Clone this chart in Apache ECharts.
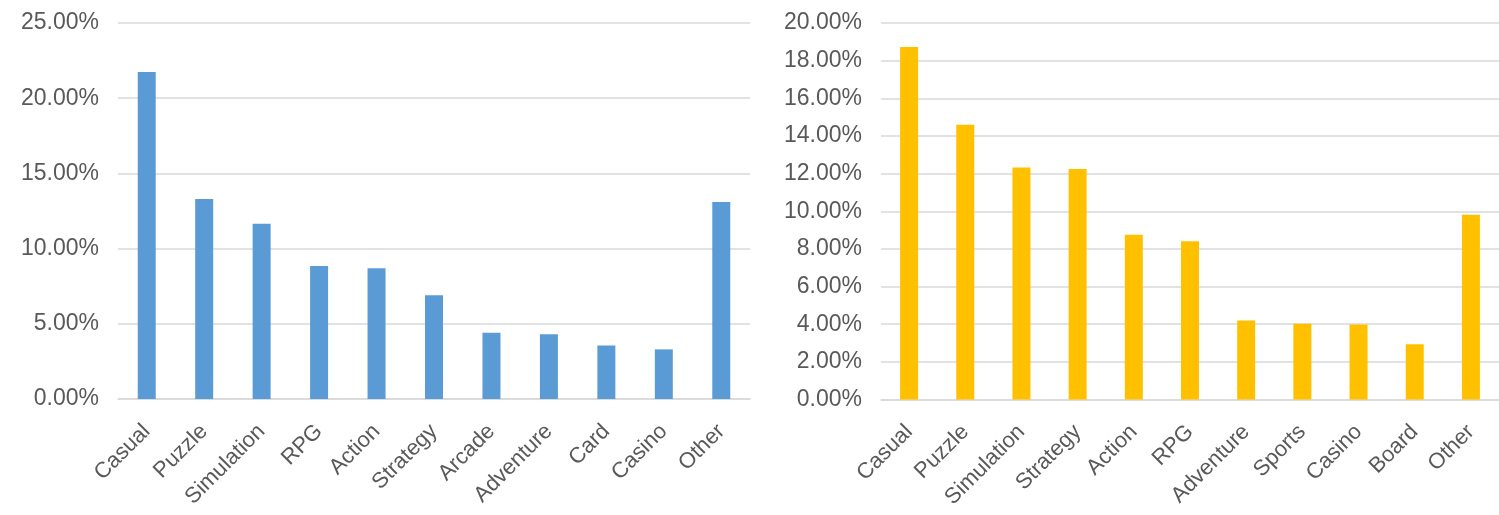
<!DOCTYPE html>
<html>
<head>
<meta charset="utf-8">
<script src="https://cdn.jsdelivr.net/npm/echarts@6/dist/echarts.min.js"></script>
<style>
  html, body { margin: 0; padding: 0; background: #ffffff; }
  #chart { width: 1499px; height: 515px; }
</style>
</head>
<body>
<div id="chart"></div>
<script>
// Left chart
const leftCategories = ['Casual', 'Puzzle', 'Simulation', 'RPG', 'Action', 'Strategy', 'Arcade', 'Adventure', 'Card', 'Casino', 'Other'];
const leftValues = [21.75, 13.3, 11.65, 8.85, 8.7, 6.9, 4.4, 4.3, 3.55, 3.3, 13.1];
const leftTicks = { min: 0, max: 25, interval: 5 };

// Right chart
const rightCategories = ['Casual', 'Puzzle', 'Simulation', 'Strategy', 'Action', 'RPG', 'Adventure', 'Sports', 'Casino', 'Board', 'Other'];
const rightValues = [18.73, 14.6, 12.33, 12.24, 8.75, 8.4, 4.19, 4.03, 3.98, 2.93, 9.81];
const rightTicks = { min: 0, max: 20, interval: 2 };

const FONT = '"Liberation Sans", Arial, Helvetica, sans-serif';
const LABEL_COLOR = '#595959';
const GRID_COLOR = '#d9d9d9';

function yAxis(gridIndex, t) {
  return {
    type: 'value', gridIndex, min: t.min, max: t.max, interval: t.interval,
    axisLine: { show: false }, axisTick: { show: false },
    splitLine: { lineStyle: { color: GRID_COLOR, width: 1.5 } },
    axisLabel: {
      color: LABEL_COLOR, fontFamily: FONT, fontSize: 23, margin: 19,
      formatter: v => v.toFixed(2) + '%'
    }
  };
}
function xAxis(gridIndex, cats) {
  return {
    type: 'category', gridIndex, data: cats,
    axisLine: { lineStyle: { color: GRID_COLOR, width: 1.5 } },
    axisTick: { show: false },
    axisLabel: {
      color: LABEL_COLOR, fontFamily: FONT, fontSize: 22, rotate: 45, margin: 29, interval: 0
    }
  };
}

const chart = echarts.init(document.getElementById('chart'), null, { renderer: 'canvas' });
chart.setOption({
  animation: false,
  backgroundColor: '#ffffff',
  grid: [
    { left: 118, top: 23, width: 632, height: 376 },
    { left: 881, top: 23, width: 632, height: 376.5 }
  ],
  xAxis: [xAxis(0, leftCategories), xAxis(1, rightCategories)],
  yAxis: [yAxis(0, leftTicks), yAxis(1, rightTicks)],
  series: [
    { type: 'bar', xAxisIndex: 0, yAxisIndex: 0, data: leftValues, barWidth: 18, itemStyle: { color: '#5b9bd5' } },
    { type: 'bar', xAxisIndex: 1, yAxisIndex: 1, data: rightValues, barWidth: 18, itemStyle: { color: '#ffc000' } }
  ]
});
</script>
</body>
</html>
